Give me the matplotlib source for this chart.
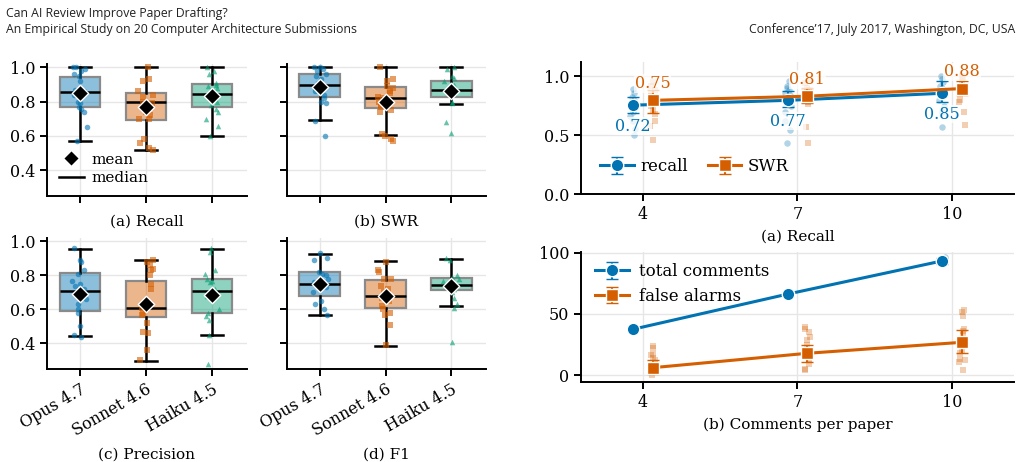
import numpy as np
import matplotlib
matplotlib.use("Agg")
import matplotlib.pyplot as plt
from matplotlib.lines import Line2D

plt.rcParams['font.family'] = 'DejaVu Serif'

# ---- data ----
models = ['Opus 4.7', 'Sonnet 4.6', 'Haiku 4.5']
model_colors = ['#0173B2', '#D55E00', '#029E73']
model_markers = ['o', 's', '^']

# box stats per metric: q1, median, q3, whisker low, whisker high, mean
recall_q1 = [0.769, 0.696, 0.771]
recall_med = [0.854, 0.796, 0.844]
recall_q3 = [0.946, 0.850, 0.902]
recall_lo = [0.569, 0.520, 0.600]
recall_hi = [1.0, 1.0, 1.0]
recall_mean = [0.850, 0.767, 0.835]

swr_q1 = [0.830, 0.765, 0.826]
swr_med = [0.900, 0.822, 0.868]
swr_q3 = [0.962, 0.883, 0.920]
swr_lo = [0.692, 0.606, 0.784]
swr_hi = [1.0, 1.0, 1.0]
swr_mean = [0.883, 0.800, 0.862]

prec_q1 = [0.592, 0.555, 0.582]
prec_med = [0.708, 0.607, 0.710]
prec_q3 = [0.816, 0.766, 0.777]
prec_lo = [0.443, 0.297, 0.448]
prec_hi = [0.957, 0.892, 0.954]
prec_mean = [0.692, 0.632, 0.685]

f1_q1 = [0.679, 0.611, 0.712]
f1_med = [0.752, 0.681, 0.743]
f1_q3 = [0.818, 0.776, 0.787]
f1_lo = [0.568, 0.388, 0.620]
f1_hi = [0.928, 0.884, 0.897]
f1_mean = [0.748, 0.677, 0.739]

# per-paper values (strip points)
recall_pts = [
    [1.0, 1.0, 0.99, 0.98, 0.96, 0.95, 0.92, 0.87, 0.86, 0.84, 0.80, 0.79, 0.77, 0.76, 0.74, 0.65, 0.57],
    [1.0, 0.93, 0.92, 0.86, 0.84, 0.83, 0.80, 0.79, 0.77, 0.74, 0.72, 0.70, 0.70, 0.58, 0.56, 0.53, 0.52],
    [1.0, 0.98, 0.96, 0.91, 0.90, 0.89, 0.88, 0.86, 0.83, 0.80, 0.78, 0.76, 0.74, 0.70, 0.66, 0.60],
]
swr_pts = [
    [1.0, 1.0, 0.99, 0.98, 0.96, 0.95, 0.93, 0.91, 0.90, 0.88, 0.86, 0.84, 0.82, 0.80, 0.79, 0.69, 0.60],
    [1.0, 0.93, 0.92, 0.89, 0.88, 0.86, 0.85, 0.83, 0.82, 0.80, 0.78, 0.77, 0.75, 0.74, 0.61, 0.60, 0.58, 0.57],
    [1.0, 0.99, 0.95, 0.94, 0.92, 0.90, 0.88, 0.87, 0.86, 0.85, 0.80, 0.79, 0.68, 0.62],
]
prec_pts = [
    [0.96, 0.89, 0.88, 0.83, 0.81, 0.77, 0.75, 0.74, 0.72, 0.70, 0.68, 0.66, 0.63, 0.60, 0.58, 0.50, 0.45, 0.44],
    [0.89, 0.88, 0.86, 0.84, 0.83, 0.80, 0.75, 0.72, 0.61, 0.60, 0.58, 0.57, 0.52, 0.47, 0.46, 0.36, 0.30],
    [0.96, 0.94, 0.83, 0.81, 0.78, 0.77, 0.76, 0.72, 0.70, 0.68, 0.60, 0.58, 0.56, 0.54, 0.45, 0.28],
]
f1_pts = [
    [0.93, 0.90, 0.89, 0.82, 0.81, 0.80, 0.78, 0.76, 0.75, 0.73, 0.70, 0.65, 0.63, 0.60, 0.57],
    [0.88, 0.83, 0.82, 0.78, 0.78, 0.74, 0.72, 0.70, 0.67, 0.65, 0.62, 0.60, 0.58, 0.57, 0.51, 0.39],
    [0.90, 0.89, 0.80, 0.79, 0.78, 0.77, 0.76, 0.74, 0.72, 0.70, 0.67, 0.63, 0.61, 0.41],
]

# right panels: comments per paper sweep
budgets = [4, 7, 10]
sweep_recall = [0.754, 0.795, 0.855]
sweep_recall_ci = [(0.686, 0.825), (0.74, 0.875), (0.78, 0.96)]
sweep_recall_label = [0.72, 0.77, 0.85]
sweep_swr = [0.795, 0.830, 0.895]
sweep_swr_ci = [(0.69, 0.88), (0.77, 0.90), (0.84, 0.96)]
sweep_swr_label = [0.75, 0.81, 0.88]
sweep_recall_pts = [
    [0.89, 0.86, 0.82, 0.80, 0.78, 0.74, 0.70, 0.66, 0.62, 0.55, 0.50],
    [0.96, 0.92, 0.90, 0.88, 0.86, 0.84, 0.80, 0.75, 0.70, 0.62, 0.54, 0.43],
    [1.0, 0.98, 0.95, 0.92, 0.90, 0.88, 0.85, 0.80, 0.75, 0.70, 0.57],
]
sweep_swr_pts = [
    [0.95, 0.92, 0.88, 0.85, 0.80, 0.75, 0.71, 0.68, 0.62, 0.58, 0.46],
    [0.98, 0.94, 0.90, 0.88, 0.85, 0.82, 0.78, 0.76, 0.57, 0.43],
    [1.0, 0.98, 0.95, 0.92, 0.90, 0.88, 0.85, 0.80, 0.78, 0.70, 0.59],
]

total_comments = [37.5, 66.3, 93.5]
total_ci = [(36.5, 38.5), (65.0, 67.5), (91.0, 96.0)]
total_pts = [[36, 37, 38, 39], [65, 66, 67, 68], [91, 94, 96, 97]]
false_alarms = [6.0, 17.8, 26.8]
false_ci = [(1.0, 12.5), (11.0, 24.5), (18.0, 37.0)]
false_pts = [
    [24, 22, 17, 16, 14, 12, 9, 6, 3, 0],
    [39, 38, 35, 31, 29, 25, 18, 12, 9, 5, 4],
    [53, 52, 48, 38, 36, 33, 20, 18, 13, 12, 11, 4],
]

BLUE = '#0173B2'
ORANGE = '#D55E00'
GRID = '#e6e6e6'

fig = plt.figure(figsize=(10.21, 4.62), dpi=100)

# header text
hfont = dict(family='Open Sans', fontsize=8.8, color='#222222')
fig.text(0.006, 0.971, 'Can AI Review Improve Paper Drafting?', va='center', ha='left', **hfont)
fig.text(0.006, 0.937, 'An Empirical Study on 20 Computer Architecture Submissions', va='center', ha='left', **hfont)
fig.text(0.994, 0.937, 'Conference\u201917, July 2017, Washington, DC, USA', va='center', ha='right', **hfont)


def style(ax):
    for s in ['top', 'right']:
        ax.spines[s].set_visible(False)
    for s in ['left', 'bottom']:
        ax.spines[s].set_linewidth(1.4)
    ax.grid(True, color=GRID, lw=1.0)
    ax.set_axisbelow(True)
    ax.tick_params(width=1.4, length=5, labelsize=11.5)


rng = np.random.default_rng(3)


def box_panel(ax, q1, med, q3, lo, hi, mean, pts, title, show_x, show_y):
    style(ax)
    stats = []
    for i in range(3):
        stats.append(dict(q1=q1[i], med=med[i], q3=q3[i], whislo=lo[i], whishi=hi[i],
                          mean=mean[i], fliers=[]))
    bp = ax.bxp(stats, positions=range(3), widths=0.62, patch_artist=True, showmeans=False,
                showfliers=False,
                boxprops=dict(edgecolor='#8a8a8a', linewidth=1.6),
                medianprops=dict(color='black', linewidth=1.8),
                whiskerprops=dict(color='black', linewidth=1.8),
                capprops=dict(color='black', linewidth=1.8), capwidths=0.33)
    for patch, c in zip(bp['boxes'], model_colors):
        patch.set_facecolor(matplotlib.colors.to_rgba(c, 0.45))
    for i in range(3):
        xs = i + rng.uniform(-0.12, 0.12, len(pts[i]))
        ax.scatter(xs, pts[i], s=16, marker=model_markers[i], color=model_colors[i],
                   alpha=0.6, linewidths=0, zorder=3)
    ax.scatter(range(3), mean, marker='D', s=70, color='black', edgecolor='white',
               linewidths=1.0, zorder=5)
    ax.set_xlim(-0.5, 2.53)
    ax.set_ylim(0.25, 1.02)
    ax.set_yticks([0.4, 0.6, 0.8, 1.0])
    ax.set_xticks(range(3))
    if show_x:
        ax.set_xticklabels(models, rotation=30, ha='right', rotation_mode='anchor')
        ax.set_xlabel(title, fontsize=11, labelpad=6)
    else:
        ax.set_xticklabels([])
        ax.set_xlabel(title, fontsize=11, labelpad=5)
    if not show_y:
        ax.set_yticklabels([])
    else:
        ax.set_yticklabels(['0.4', '0.6', '0.8', '1.0'])


ax_a = fig.add_axes([0.046, 0.5758, 0.1959, 0.2857])
ax_b = fig.add_axes([0.2811, 0.5758, 0.1949, 0.2857])
ax_c = fig.add_axes([0.046, 0.2013, 0.1959, 0.2835])
ax_d = fig.add_axes([0.2811, 0.2013, 0.1949, 0.2835])

box_panel(ax_a, recall_q1, recall_med, recall_q3, recall_lo, recall_hi, recall_mean,
          recall_pts, '(a) Recall', False, True)
box_panel(ax_b, swr_q1, swr_med, swr_q3, swr_lo, swr_hi, swr_mean,
          swr_pts, '(b) SWR', False, False)
box_panel(ax_c, prec_q1, prec_med, prec_q3, prec_lo, prec_hi, prec_mean,
          prec_pts, '(c) Precision', True, True)
box_panel(ax_d, f1_q1, f1_med, f1_q3, f1_lo, f1_hi, f1_mean,
          f1_pts, '(d) F1', True, False)

handles = [Line2D([], [], marker='D', ls='none', color='black', markeredgecolor='white', markersize=8),
           Line2D([], [], color='black', lw=1.8)]
ax_a.legend(handles, ['mean', 'median'], loc='lower left', frameon=False, fontsize=11,
            handlelength=1.6, handletextpad=0.5, borderaxespad=0.0, labelspacing=0.3,
            bbox_to_anchor=(0.03, 0.035))

# ---- right panels ----
dodge = 0.19
bx = np.array(budgets, dtype=float)


def sweep_series(ax, x, mean, ci, pts, color, marker, label):
    for xi, p in zip(x, pts):
        xs = xi + rng.uniform(-0.06, 0.06, len(p))
        ax.scatter(xs, p, s=22, marker=marker, color=color, alpha=0.3, linewidths=0, zorder=2)
    lo = np.array([c[0] for c in ci])
    hi = np.array([c[1] for c in ci])
    m = np.array(mean)
    ax.errorbar(x, m, yerr=[m - lo, hi - m], fmt='-' + marker, color=color, lw=2.2,
                markersize=9, markeredgecolor='white', markeredgewidth=1.0,
                capsize=4, elinewidth=1.5, capthick=1.5, label=label, zorder=4)


ax_r1 = fig.add_axes([0.569, 0.580, 0.4241, 0.2857])
style(ax_r1)
sweep_series(ax_r1, bx - dodge, sweep_recall, sweep_recall_ci, sweep_recall_pts, BLUE, 'o', 'recall')
sweep_series(ax_r1, bx + dodge, sweep_swr, sweep_swr_ci, sweep_swr_pts, ORANGE, 's', 'SWR')
for xi, ym, v in zip(bx - dodge, sweep_recall, sweep_recall_label):
    ax_r1.annotate(f'{v:.2f}', (xi, ym), xytext=(0, -15), textcoords='offset points',
                   ha='center', va='center', color=BLUE, fontsize=11.5, zorder=6,
                   bbox=dict(boxstyle='square,pad=0.05', fc='white', ec='none', alpha=0.75))
for xi, ym, v in zip(bx + dodge, sweep_swr, sweep_swr_label):
    ax_r1.annotate(f'{v:.2f}', (xi, ym), xytext=(0, 12), textcoords='offset points',
                   ha='center', va='center', color=ORANGE, fontsize=11.5, zorder=6,
                   bbox=dict(boxstyle='square,pad=0.05', fc='white', ec='none', alpha=0.75))
ax_r1.set_xlim(2.8, 11.2)
ax_r1.set_ylim(0, 1.12)
ax_r1.set_xticks(budgets)
ax_r1.set_yticks([0.0, 0.5, 1.0])
ax_r1.set_xlabel('(a) Recall', fontsize=11, labelpad=5)
ax_r1.legend(loc='lower left', ncol=2, frameon=False, fontsize=12, handlelength=2.0,
             handletextpad=0.4, columnspacing=1.2, bbox_to_anchor=(0.01, 0.03))

ax_r2 = fig.add_axes([0.569, 0.1732, 0.4241, 0.2814])
style(ax_r2)
sweep_series(ax_r2, bx - dodge, total_comments, total_ci, total_pts, BLUE, 'o', 'total comments')
sweep_series(ax_r2, bx + dodge, false_alarms, false_ci, false_pts, ORANGE, 's', 'false alarms')
ax_r2.set_xlim(2.8, 11.2)
ax_r2.set_ylim(-5.7, 100.8)
ax_r2.set_xticks(budgets)
ax_r2.set_yticks([0, 50, 100])
ax_r2.set_xlabel('(b) Comments per paper', fontsize=11, labelpad=5)
ax_r2.legend(loc='upper left', frameon=False, fontsize=12, handlelength=2.0,
             handletextpad=0.6, labelspacing=0.45, borderaxespad=0.2,
             bbox_to_anchor=(0.01, 0.99))

fig.savefig('out.png', dpi=100)
